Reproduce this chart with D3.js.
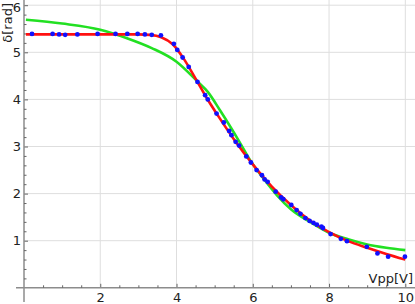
<!DOCTYPE html>
<html>
<head>
<meta charset="utf-8">
<script src="https://cdn.jsdelivr.net/npm/d3@7"></script>
<style>
  body { margin: 0; background: #fff; }
  text { font-family: "DejaVu Sans", sans-serif; }
</style>
</head>
<body>
<div id="chart"></div>
<script>
// measured points (Vpp in volts, retardance in rad)
const vpp = [0.21, 0.75, 0.92, 1.08, 1.40, 1.93, 2.40, 2.71, 2.98, 3.17, 3.35, 3.59,
  3.93, 4.02, 4.16, 4.32, 4.55, 4.75, 4.82, 5.05, 5.24, 5.38, 5.44, 5.55, 5.64,
  5.83, 5.95, 6.10, 6.24, 6.31, 6.39, 6.60, 6.74, 6.80, 7.01, 7.15, 7.25, 7.38,
  7.49, 7.59, 7.68, 7.80, 7.84, 8.04, 8.31, 8.47, 8.99, 9.27, 9.55, 9.99];
const delta = [5.39, 5.39, 5.38, 5.37, 5.38, 5.39, 5.39, 5.39, 5.39, 5.38, 5.37, 5.36,
  5.18, 5.05, 4.89, 4.69, 4.37, 4.09, 4.00, 3.70, 3.51, 3.33, 3.24, 3.10, 3.02,
  2.79, 2.66, 2.50, 2.39, 2.30, 2.25, 2.04, 1.92, 1.88, 1.76, 1.65, 1.57, 1.48,
  1.42, 1.38, 1.34, 1.30, 1.27, 1.14, 1.04, 0.99, 0.87, 0.73, 0.66, 0.66];

// red fit curve
const redV = [0.05, 1.0, 2.0, 3.0, 3.3, 3.6, 3.9, 4.2, 4.5, 4.8, 5.1, 5.5, 6.0, 6.5, 7.0, 7.5, 8.0, 8.5, 9.0, 9.5, 10.0];
const redD = [5.38, 5.38, 5.38, 5.38, 5.37, 5.32, 5.17, 4.85, 4.44, 4.02, 3.64, 3.16, 2.62, 2.15, 1.76, 1.43, 1.18, 0.99, 0.85, 0.72, 0.60];

// green fit curve
const greenV = [0.05, 1.0, 2.0, 2.7, 3.35, 4.0, 4.55, 4.82, 5.14, 5.65, 5.93, 6.3, 6.63, 7.0, 7.5, 8.0, 8.5, 9.0, 9.5, 10.0];
const greenD = [5.69, 5.61, 5.48, 5.30, 5.09, 4.80, 4.38, 4.16, 3.77, 3.10, 2.71, 2.30, 1.97, 1.67, 1.40, 1.17, 1.03, 0.92, 0.85, 0.80];

const xMajor = [2, 4, 6, 8, 10];
const yMajor = [1, 2, 3, 4, 5, 6];

const width = 415, height = 304;

const x = d3.scaleLinear().domain([0, 10]).range([24, 405.3]);
const y = d3.scaleLinear().domain([0, 6]).range([287.8, 5.2]);

const svg = d3.select("#chart").append("svg")
  .attr("width", width)
  .attr("height", height);

// grid
svg.append("g")
  .selectAll("line")
  .data(xMajor)
  .enter().append("line")
  .attr("x1", d => x(d)).attr("x2", d => x(d))
  .attr("y1", 0).attr("y2", y(0))
  .attr("stroke", "#dedede").attr("stroke-width", 1);

svg.append("g")
  .selectAll("line")
  .data(yMajor)
  .enter().append("line")
  .attr("x1", x(0)).attr("x2", width)
  .attr("y1", d => y(d)).attr("y2", d => y(d))
  .attr("stroke", "#dedede").attr("stroke-width", 1);

// minor tick values
const xMinor = d3.range(1, 21).map(i => i * 0.5).filter(v => !xMajor.includes(v));
const yMinor = d3.range(1, 31).map(i => +(i * 0.2).toFixed(1)).filter(v => !yMajor.includes(v));

// x axis
const gx = svg.append("g").attr("transform", `translate(0,${y(0)})`);
gx.call(d3.axisBottom(x).tickValues(xMajor).tickFormat(d3.format("d"))
  .tickSizeInner(-4).tickSizeOuter(0).tickPadding(5));
gx.select(".domain").remove();
gx.append("line")
  .attr("x1", 16).attr("x2", width)
  .attr("stroke", "#8c8c8c").attr("stroke-width", 1.5);
const gxm = svg.append("g").attr("transform", `translate(0,${y(0)})`);
gxm.call(d3.axisBottom(x).tickValues(xMinor).tickSizeInner(-2.5).tickSizeOuter(0).tickFormat(""));
gxm.select(".domain").remove();

// y axis
const gy = svg.append("g").attr("transform", `translate(${x(0)},0)`);
gy.call(d3.axisLeft(y).tickValues(yMajor).tickFormat(d3.format("d"))
  .tickSizeInner(-4).tickSizeOuter(0).tickPadding(3));
gy.select(".domain").remove();
gy.append("line")
  .attr("y1", 0).attr("y2", 302)
  .attr("stroke", "#8c8c8c").attr("stroke-width", 1.5);
const gym = svg.append("g").attr("transform", `translate(${x(0)},0)`);
gym.call(d3.axisLeft(y).tickValues(yMinor).tickSizeInner(-2.5).tickSizeOuter(0).tickFormat(""));
gym.select(".domain").remove();

svg.selectAll(".tick line").attr("stroke", "#666");
svg.selectAll(".tick text")
  .attr("fill", "#222")
  .style("font-size", "13px")
  .style("font-family", "DejaVu Sans, sans-serif");
// keep the top label inside the picture
gy.selectAll(".tick text").filter(d => d === 6).attr("dy", "0.5em");

// curves
const line = d3.line().curve(d3.curveMonotoneX);

svg.append("path")
  .attr("d", line(greenV.map((v, i) => [x(v), y(greenD[i])])))
  .attr("fill", "none")
  .attr("stroke", "#22e022")
  .attr("stroke-width", 2.6);

svg.append("path")
  .attr("d", line(redV.map((v, i) => [x(v), y(redD[i])])))
  .attr("fill", "none")
  .attr("stroke", "#ff1010")
  .attr("stroke-width", 2.6);

// data points
svg.append("g")
  .selectAll("circle")
  .data(vpp)
  .enter().append("circle")
  .attr("cx", d => x(d))
  .attr("cy", (d, i) => y(delta[i]))
  .attr("r", 2.4)
  .attr("fill", "#1010ff");

// axis labels
svg.append("text")
  .attr("transform", `translate(12,3) rotate(-90)`)
  .attr("text-anchor", "end")
  .style("font-size", "13px")
  .attr("fill", "#222")
  .text("δ[rad]");

svg.append("text")
  .attr("x", 413)
  .attr("y", 283)
  .attr("text-anchor", "end")
  .style("font-size", "13px")
  .attr("fill", "#222")
  .text("Vpp[V]");
</script>
</body>
</html>
